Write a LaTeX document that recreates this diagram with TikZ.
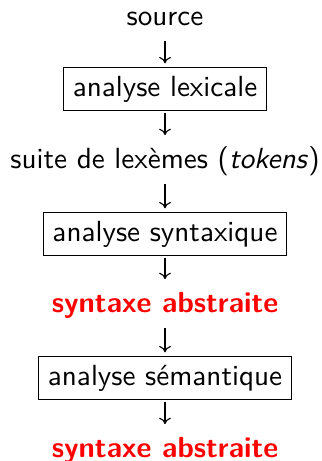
\documentclass[tikz,border=0pt]{standalone}
\usetikzlibrary{arrows.meta}
\begin{document}
\begin{tikzpicture}[x=0.3757pt,y=-0.3757pt,
  every node/.style={font=\fontsize{10.95}{13.5}\selectfont\sffamily,
    text height=7.6pt,text depth=2.1pt,inner xsep=3.5pt,inner ysep=3.1pt},
  stagebox/.style={draw,line width=0.4pt},
  result/.style={text=red,font=\fontsize{10.95}{13.5}\selectfont\sffamily\bfseries},
  flow/.style={line width=0.42pt,-{Computer Modern Rightarrow[width=4.4pt,length=2.4pt]},
    shorten <=0.7pt,shorten >=1.5pt}]
\useasboundingbox (0,0) rectangle (321,461);
\node (src) at (165,17.75) {source};
\node[stagebox] (lex) at (165,89) {analyse lexicale};
\node (tok) at (165,160.75) {suite de lexèmes (\textit{tokens})};
\node[stagebox] (syn) at (165,234) {analyse syntaxique};
\node[result] (ast1) at (165,304.75) {syntaxe abstraite};
\node[stagebox] (sem) at (165,378) {analyse sémantique};
\node[result] (ast2) at (165,449.75) {syntaxe abstraite};
\draw[flow] (src) -- (lex);
\draw[flow] (lex) -- (tok);
\draw[flow] (tok) -- (syn);
\draw[flow] (syn) -- (ast1);
\draw[flow] (ast1) -- (sem);
\draw[flow] (sem) -- (ast2);
\end{tikzpicture}
\end{document}
